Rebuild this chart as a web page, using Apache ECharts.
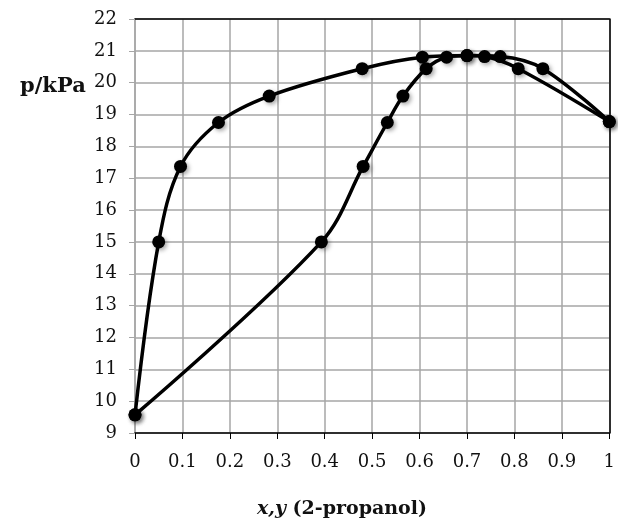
<!DOCTYPE html>
<html>
<head>
<meta charset="utf-8">
<script src="https://cdn.jsdelivr.net/npm/echarts@6/dist/echarts.min.js"></script>
<style>html,body{margin:0;padding:0;background:#fff}#c{width:618px;height:520px}</style>
</head>
<body>
<div id="c"></div>
<script>
// vapour (upper) curve
var vaporX = [0, 0.05, 0.096, 0.176, 0.283, 0.479, 0.606, 0.70, 0.77, 0.86, 1.0];
var vaporP = [9.57, 15.0, 17.37, 18.75, 19.58, 20.44, 20.80, 20.85, 20.82, 20.44, 18.78];
// liquid (lower) curve
var liquidX = [0, 0.393, 0.481, 0.532, 0.565, 0.614, 0.657, 0.70, 0.737, 0.808, 1.0];
var liquidP = [9.57, 15.0, 17.37, 18.75, 19.58, 20.44, 20.80, 20.85, 20.82, 20.44, 18.78];
var xTickLabels = ['0','0.1','0.2','0.3','0.4','0.5','0.6','0.7','0.8','0.9','1'];
var yTickLabels = ['9','10','11','12','13','14','15','16','17','18','19','20','21','22'];

function pairs(xs, ys){ return xs.map(function(x,i){ return [x, ys[i]]; }); }

var FONT = 'DejaVu Serif';
var chart = echarts.init(document.getElementById('c'), null, {renderer:'canvas'});
var seriesStyle = {
  type:'line', smooth:0.35, symbol:'circle', symbolSize:13,
  lineStyle:{color:'#000', width:3.5},
  itemStyle:{color:'#000', shadowBlur:4, shadowColor:'rgba(0,0,0,0.35)', shadowOffsetX:2, shadowOffsetY:2},
  z:3, animation:false
};
chart.setOption({
  animation:false,
  grid:{left:135, right:5, top:19, bottom:87, containLabel:false},
  title:[
    {text:'p/kPa', left:15, top:71, textStyle:{fontFamily:FONT, fontWeight:'bold', fontSize:21, color:'#111'}},
    {text:'{i|x,y} (2-propanol)', left:252, top:495,
     textStyle:{fontFamily:FONT, fontWeight:'bold', fontSize:19, color:'#111',
       rich:{i:{fontFamily:FONT, fontWeight:'bold', fontStyle:'italic', fontSize:19, color:'#111'}}}}
  ],
  xAxis:[
    {type:'value', min:0, max:1, interval:0.1, position:'bottom',
     axisLine:{show:true, lineStyle:{color:'#000', width:1.5}},
     axisTick:{show:true, inside:false, length:6, lineStyle:{color:'#000', width:1}},
     axisLabel:{margin:20, fontFamily:FONT, fontSize:18, color:'#111',
       formatter:function(v){ return xTickLabels[Math.round(v*10)]; }},
     splitLine:{show:true, lineStyle:{color:'#a6a6a6', width:1.5}}},
    {type:'value', min:0, max:1, interval:0.1, position:'top',
     axisLine:{show:true, onZero:false, lineStyle:{color:'#000', width:1.5}},
     axisTick:{show:false}, axisLabel:{show:false}, splitLine:{show:false}}
  ],
  yAxis:[
    {type:'value', min:9, max:22, interval:1, position:'left',
     axisLine:{show:true, lineStyle:{color:'#a6a6a6', width:1.5}},
     axisTick:{show:true, inside:false, length:6, lineStyle:{color:'#a6a6a6', width:1}},
     axisLabel:{margin:18, fontFamily:FONT, fontSize:18, color:'#111',
       formatter:function(v){ return yTickLabels[Math.round(v-9)]; }},
     splitLine:{show:true, lineStyle:{color:'#a6a6a6', width:1.5}}},
    {type:'value', min:9, max:22, interval:1, position:'right',
     axisLine:{show:true, onZero:false, lineStyle:{color:'#000', width:1.5}},
     axisTick:{show:false}, axisLabel:{show:false}, splitLine:{show:false}}
  ],
  series:[
    Object.assign({name:'vapour', data:pairs(vaporX, vaporP)}, seriesStyle),
    Object.assign({name:'liquid', data:pairs(liquidX, liquidP)}, seriesStyle)
  ]
});
</script>
</body>
</html>
